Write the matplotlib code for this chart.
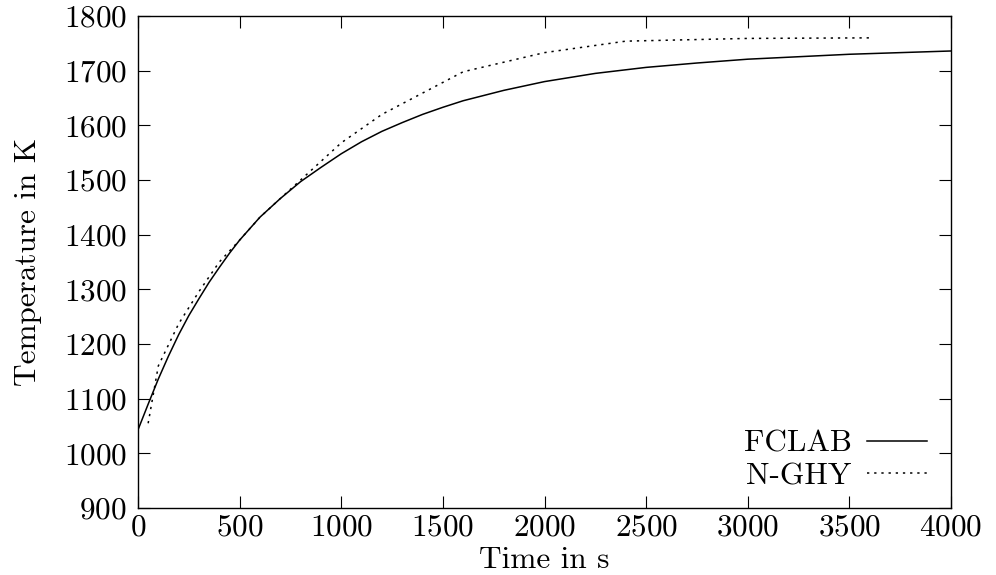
import numpy as np
import matplotlib
matplotlib.use('Agg')
import matplotlib.pyplot as plt

# Computer Modern look (cmr10 ships with matplotlib)
plt.rcParams['font.family'] = ['cmr10', 'DejaVu Serif']
plt.rcParams['mathtext.fontset'] = 'cm'
plt.rcParams['axes.formatter.use_mathtext'] = True
plt.rcParams['font.size'] = 22.5

# FCLAB simulation
fclab_t = [0, 50, 100, 150, 200, 250, 300, 350, 400, 450, 500, 600, 700, 800,
           900, 1000, 1100, 1200, 1300, 1400, 1500, 1600, 1800, 2000, 2250,
           2500, 2750, 3000, 3500, 4000]
fclab_T = [1043, 1090, 1136, 1178, 1217, 1252, 1283, 1313, 1340, 1366, 1390,
           1432, 1466, 1497, 1523, 1548, 1570, 1589, 1605, 1620, 1633, 1645,
           1664, 1680, 1695, 1706, 1714, 1721, 1730, 1736]

# N-GHY simulation
nghy_t = [50, 100, 200, 300, 400, 500, 600, 800, 1000, 1200, 1600, 2000,
          2400, 3000, 3600]
nghy_T = [1055, 1160, 1237, 1296, 1350, 1390, 1432, 1500, 1568, 1620, 1698,
          1733, 1754, 1759, 1760]

x_ticks = [0, 500, 1000, 1500, 2000, 2500, 3000, 3500, 4000]
y_ticks = [900, 1000, 1100, 1200, 1300, 1400, 1500, 1600, 1700, 1800]

fig = plt.figure(figsize=(9.96, 5.75), dpi=100)
ax = fig.add_axes([138 / 996, 1 - 508 / 575, 813 / 996, 492 / 575])

ax.plot(fclab_t, fclab_T, color='black', lw=1.1, label='FCLAB')
ax.plot(nghy_t, nghy_T, color='black', lw=1.1, linestyle=(0, (1.5, 3.2)),
        label='N-GHY')

ax.set_xlim(0, 4000)
ax.set_ylim(900, 1800)
ax.set_xticks(x_ticks)
ax.set_yticks(y_ticks)
ax.tick_params(direction='in', length=8.5, width=0.8, top=True, right=True)
ax.tick_params(axis='x', pad=4)
ax.tick_params(axis='y', pad=8)
for s in ax.spines.values():
    s.set_linewidth(1.0)

ax.set_xlabel('Time in s', va='center')
ax.xaxis.set_label_coords(0.5, -0.106)
ax.set_ylabel('Temperature in K', va='center')
ax.yaxis.set_label_coords(-0.135, 0.5)

ax.legend(loc='lower right', frameon=False, markerfirst=False,
          handlelength=1.92, handletextpad=0.5, labelspacing=0.15,
          borderpad=0, borderaxespad=0, bbox_to_anchor=(0.9705, 0.036))

fig.savefig('out.png', dpi=100)
